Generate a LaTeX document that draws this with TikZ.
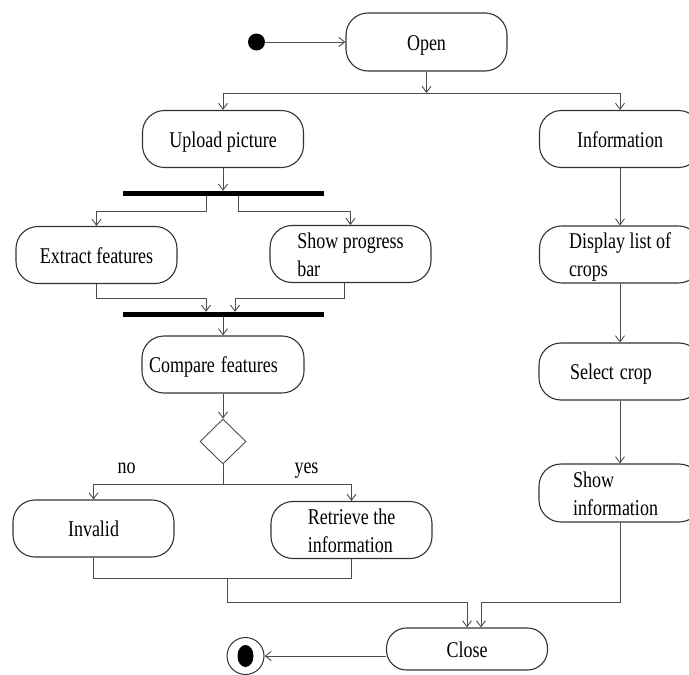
\documentclass[tikz,border=0pt]{standalone}
\usepackage{fontspec}
\setmainfont{Liberation Serif}
\usepackage{graphicx}
\usetikzlibrary{arrows.meta,shapes.geometric}
\newcommand{\tx}[1]{\noindent\raisebox{-2.5pt}[\height][\depth]{\scalebox{1}[1.25]{\begin{tabular}{@{}l@{}}#1\end{tabular}}}}

\begin{document}
\begin{tikzpicture}[x=1pt,y=-1pt,font=\fontsize{18}{22.4}\selectfont,
    act/.style={draw=black!80,line width=1.1pt,rounded corners=22pt,minimum width=161pt,minimum height=57pt,inner sep=0pt},
    lft/.style 2 args={inner xsep=#1,text width=#2,align=left},
    bar/.style={fill=black,minimum width=201pt,minimum height=5pt,inner sep=0pt},
    flow/.style={draw=black!70,line width=0.9pt},
    arr/.style={flow,-{Straight Barb[length=6pt,width=9pt]}}]
        \useasboundingbox (0,0) rectangle (689,675);
        % left branch
        \node[circle,fill=black,minimum size=17pt,inner sep=0pt] (start) at (256.5,42) {};
        \node[act,minimum height=58pt] (open) at (426.5,42) {\tx{Open}};
        \node[act] (up) at (223,139) {\tx{Upload picture}};
        \node[bar] (bar1) at (223,193.5) {};
        \node[act] (ext) at (96.5,255) {\tx{Extract features}};
        \node[act] (prog) at (350.5,254) {\tx{Show progress\\bar}};
        \node[bar] (bar2) at (223,314.5) {};
        \node[act,lft={7pt}{148pt}] (cmp) at (223,364.5) {\tx{Compare features}};
        \node[diamond,draw=black!70,line width=0.9pt,minimum width=46pt,minimum height=45pt,inner sep=0pt] (dec) at (223,441.5) {};
        \node (no) at (126.5,465) {\tx{no}};
        \node (yes) at (306.5,465) {\tx{yes}};
        \node[act] (inv) at (93.5,528.5) {\tx{Invalid}};
        \node[act] (ret) at (351.5,530) {\tx{Retrieve the\\information}};
        % right branch
        \node[act] (info) at (620,139) {\tx{Information}};
        \node[act] (disp) at (620,254.5) {\tx{Display list of\\crops}};
        \node[act,lft={31pt}{100pt}] (sel) at (620,371.5) {\tx{Select crop}};
        \node[act,minimum height=58pt,lft={34pt}{94pt}] (shw) at (620,493) {\tx{Show\\information}};
        % end
        \node[act,minimum height=42pt,rounded corners=20pt] (close) at (467,649) {\tx{Close}};
        \node[circle,draw=black!80,line width=1pt,minimum size=37pt,inner sep=0pt] (fin) at (245.5,656) {};
        \fill (fin) ellipse (8pt and 11pt);

        \coordinate (f0) at (426.5,93);
        \draw[arr] (start) -- (open);
        \draw[arr] (open) -- (f0);
        \draw[arr] (f0) -| (up);
        \draw[arr] (f0) -| (info);
        \draw[arr] (up) -- (bar1);
        \draw[arr] ([xshift=-16.5pt]bar1.south) -- ++(0,15) -| (ext);
        \draw[arr] ([xshift=15pt]bar1.south) -- ++(0,15) -| (prog);
        \draw[arr] (ext.south) -- ++(0,14) -| ([xshift=-17pt]bar2.north);
        \draw[arr] ([xshift=-6pt]prog.south) -- ++(0,15) -| ([xshift=12pt]bar2.north);
        \draw[arr] (bar2) -- (cmp);
        \draw[arr] (cmp) -- (dec);
        \draw[flow] (dec.south) -- ++(0,20) coordinate (f1);
        \draw[arr] (f1) -| (inv);
        \draw[arr] (f1) -| (ret);
        \draw[flow] (inv.south) -- ++(0,21) coordinate (m0) -| (ret.south);
        \coordinate (m1) at (227,578.5);
        \coordinate (m2) at (467,602.5);
        \draw[arr] (m1) |- (m2) -- (close);
        \draw[arr] (info) -- (disp);
        \draw[arr] (disp) -- (sel);
        \draw[arr] (sel) -- (shw);
        \draw[arr] (shw.south) |- ([xshift=14pt]m2) -- ([xshift=14pt]close.north);
        \draw[arr] (close.west |- fin) -- (fin);
\end{tikzpicture}
\end{document}
